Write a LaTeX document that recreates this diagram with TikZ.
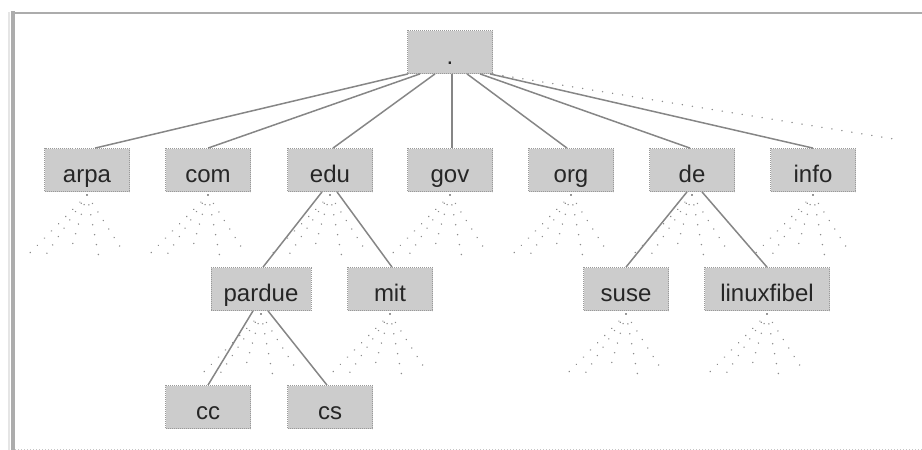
\documentclass[tikz,border=0pt]{standalone}
\usepackage{fontspec}
\setmainfont{Liberation Sans}
\usetikzlibrary{calc}

\tikzset{
  dnsbox/.style={draw=gray!80, dash pattern=on 1pt off 1pt, line width=0.8pt,
    fill=gray!40, minimum width=85pt, minimum height=43pt, inner sep=0pt,
    text height=25pt, text depth=0pt,
    font=\fontsize{24}{28}\selectfont, text=black!85},
  link/.style={draw=gray!95, line width=1.5pt},
  hidden/.style={draw=gray!90, line width=1.5pt, line cap=round,
    dash pattern=on 0.1pt off 10pt},
  frameline/.style={draw=gray!65},
}

% fan of dotted lines standing for the further subdomains below a node
\newcommand\subfan[1]{%
  \foreach \dx/\dy in {-62/63,-44/64,-17/58,12/63,37/58}
    \draw[hidden] ([yshift=-3pt]#1.south) -- ++(\dx,\dy);}

\begin{document}
\begin{tikzpicture}[x=1pt,y=-1pt]
\useasboundingbox (0,0) rectangle (922,450);

% outer frame
\draw[gray!20, line width=2pt] (9,12) -- (9,452);
\draw[frameline, line width=4pt] (13,11) -- (13,452);
\draw[frameline, line width=2.5pt] (11,13) -- (924,13);
\draw[gray!45, line width=1pt, dash pattern=on 1pt off 2pt] (15,449) -- (922,449);

% root
\node[dnsbox] (root) at (450,52) {.};

% top-level domains
\node[dnsbox] (arpa) at (87,170) {arpa};
\node[dnsbox] (com)  at (208,170) {com};
\node[dnsbox] (edu)  at (330,170) {edu};
\node[dnsbox] (gov)  at (450,170) {gov};
\node[dnsbox] (org)  at (571,170) {org};
\node[dnsbox] (de)   at (692,170) {de};
\node[dnsbox] (info) at (813,170) {info};

% second level
\node[dnsbox, minimum width=100pt] (pardue) at (261,289) {pardue};
\node[dnsbox] (mit)  at (390,289) {mit};
\node[dnsbox] (suse) at (626,289) {suse};
\node[dnsbox, minimum width=125pt] (linuxfibel) at (767,289) {linuxfibel};

% third level
\node[dnsbox] (cc) at (208,407) {cc};
\node[dnsbox] (cs) at (330,407) {cs};

% further top-level domains, only hinted
\coordinate (more) at (900,140);

% subtrees below the nodes
\foreach \n in {arpa,com,edu,gov,org,de,info,pardue,mit,suse,linuxfibel}
  \subfan{\n};

% root to top-level domains
\draw[link] ([xshift=-42pt]root.south) -- ([xshift=8pt]arpa.north);
\draw[link] ([xshift=-30pt]root.south) -- (com.north);
\draw[link] ([xshift=-15pt]root.south) -- ([xshift=3pt]edu.north);
\draw[link] ([xshift=2pt]root.south) -- ([xshift=2pt]gov.north);
\draw[link] ([xshift=17pt]root.south) -- ([xshift=-4pt]org.north);
\draw[link] ([xshift=30pt]root.south) -- ([xshift=-2pt]de.north);
\draw[link] ([xshift=40pt]root.south) -- (info.north);
\draw[hidden] (root.south east) -- (more);

% edu subtree
\draw[link] ([xshift=-8pt]edu.south) -- ([xshift=2pt]pardue.north);
\draw[link] ([xshift=7pt]edu.south) -- ([xshift=2pt]mit.north);
\draw[link] ([xshift=-8pt]pardue.south) -- (cc.north);
\draw[link] ([xshift=7pt]pardue.south) -- ([xshift=-3pt]cs.north);

% de subtree
\draw[link] ([xshift=-5pt]de.south) -- (suse.north);
\draw[link] ([xshift=10pt]de.south) -- (linuxfibel.north);
\end{tikzpicture}
\end{document}
